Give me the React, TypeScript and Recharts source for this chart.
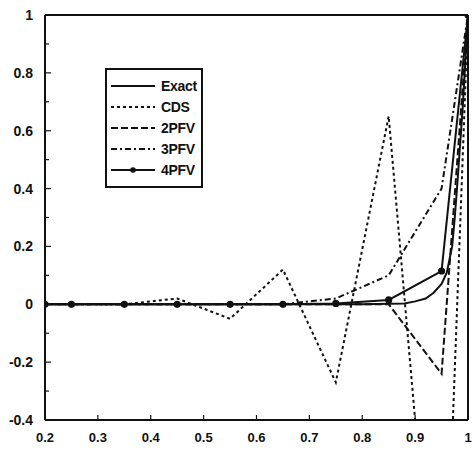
import { LineChart, Line, XAxis, YAxis, ReferenceLine } from 'recharts'

// axis ticks
const xTicks = [0.2, 0.3, 0.4, 0.5, 0.6, 0.7, 0.8, 0.9, 1]
const yTicks = [-0.4, -0.3, -0.2, -0.1, 0, 0.1, 0.2, 0.3, 0.4, 0.5, 0.6, 0.7, 0.8, 0.9, 1]

// shared grid of the numerical schemes
const gridX = [0.2, 0.25, 0.35, 0.45, 0.55, 0.65, 0.75, 0.85, 0.95, 1]
const cdsValues = [0, 0, 0, 0.02, -0.05, 0.12, -0.27, 0.65, -1.45, 1]
const pfv2Values = [0, 0, 0, 0, 0, 0, 0, 0, -0.24, 1]
const pfv3Values = [0, 0, 0, 0, 0, 0, 0.02, 0.1, 0.4, 1]
const pfv4Values = [0, 0, 0, 0, 0, 0, 0.003, 0.015, 0.115, 1]

// exact solution, finer sampling near the boundary layer
const exactX = [0.2, 0.5, 0.8, 0.88, 0.9, 0.92, 0.935, 0.95, 0.96, 0.97, 0.975, 0.98, 0.99, 1]
const exactValues = [0, 0, 0, 0.003, 0.01, 0.02, 0.04, 0.07, 0.11, 0.2, 0.3, 0.42, 0.68, 1]

const toPoints = (xs: number[], ys: number[]) => xs.map((x, i) => ({ x, y: ys[i] }))

const series = [
    { name: 'Exact', data: toPoints(exactX, exactValues), dash: undefined, dot: false },
    { name: 'CDS', data: toPoints(gridX, cdsValues), dash: '3 3', dot: false },
    { name: '2PFV', data: toPoints(gridX, pfv2Values), dash: '7 3', dot: false },
    { name: '3PFV', data: toPoints(gridX, pfv3Values), dash: '6 3 2 3', dot: false },
    { name: '4PFV', data: toPoints(gridX, pfv4Values), dash: undefined, dot: true },
]

const ink = '#111'
const font = '"Liberation Sans", Arial, sans-serif'

const fmt = (v: number) => (Math.round(v * 10) / 10).toString()

const YTick = ({ x, y, payload }: any) => {
    const v = payload.value as number
    const major = Math.round(v * 10) % 2 === 0
    return (
        <g>
            <line x1={x} x2={x + (major ? 6 : 4)} y1={y} y2={y} stroke={ink} strokeWidth={1.2} />
            {major && (
                <text x={x - 12} y={y} dy={5} textAnchor="end" fontSize={14} fontWeight="bold" fill={ink} fontFamily={font}>
                    {fmt(v)}
                </text>
            )}
        </g>
    )
}

const XTick = ({ x, y, payload }: any) => (
    <g>
        <line x1={x} x2={x} y1={y} y2={y - 5} stroke={ink} strokeWidth={1.2} />
        <text x={x} y={y + 22} textAnchor="middle" fontSize={13} fontWeight="bold" fill={ink} fontFamily={font}>
            {fmt(payload.value)}
        </text>
    </g>
)

function LegendBox() {
    return (
        <div
            style={{
                position: 'absolute',
                left: 105,
                top: 68,
                width: 98,
                height: 120,
                border: `2px solid ${ink}`,
                boxSizing: 'border-box',
                background: '#fff',
                fontFamily: font,
            }}
        >
            {series.map((s, i) => (
                <div key={s.name} style={{ position: 'absolute', left: 4, top: 7 + i * 21, display: 'flex', alignItems: 'center', height: 18 }}>
                    <svg width={44} height={10}>
                        <line x1={0} x2={44} y1={5} y2={5} stroke={ink} strokeWidth={2} strokeDasharray={s.dash} />
                        {s.dot && <circle cx={22} cy={5} r={2.8} fill={ink} />}
                    </svg>
                    <span style={{ marginLeft: 6, fontSize: 14, color: ink, fontWeight: 'bold', letterSpacing: -0.3 }}>{s.name}</span>
                </div>
            ))}
        </div>
    )
}

export default function App() {
    return (
        <div style={{ position: 'absolute', left: 0, top: 0, width: 472, height: 455, background: '#fff' }}>
            <LineChart width={472} height={455} margin={{ top: 15, right: 4, left: 0, bottom: 0 }}>
                <XAxis
                    dataKey="x"
                    type="number"
                    domain={[0.2, 1]}
                    ticks={xTicks}
                    allowDataOverflow
                    height={35}
                    tickSize={0}
                    tickMargin={0}
                    tickLine={false}
                    axisLine={{ stroke: ink, strokeWidth: 2 }}
                    tick={<XTick />}
                    interval={0}
                />
                <YAxis
                    type="number"
                    domain={[-0.4, 1]}
                    ticks={yTicks}
                    allowDataOverflow
                    width={45}
                    tickSize={0}
                    tickMargin={0}
                    tickLine={false}
                    axisLine={{ stroke: ink, strokeWidth: 2 }}
                    tick={<YTick />}
                    interval={0}
                />
                <ReferenceLine y={1} stroke={ink} strokeWidth={2} />
                <ReferenceLine x={1} stroke={ink} strokeWidth={2} />
                {series.map(s => (
                    <Line
                        key={s.name}
                        data={s.data}
                        dataKey="y"
                        name={s.name}
                        type="linear"
                        stroke={ink}
                        strokeWidth={2}
                        strokeDasharray={s.dash}
                        dot={s.dot ? { r: 2.6, fill: ink, stroke: ink } : false}
                        activeDot={false}
                        isAnimationActive={false}
                    />
                ))}
            </LineChart>
            <LegendBox />
        </div>
    )
}
